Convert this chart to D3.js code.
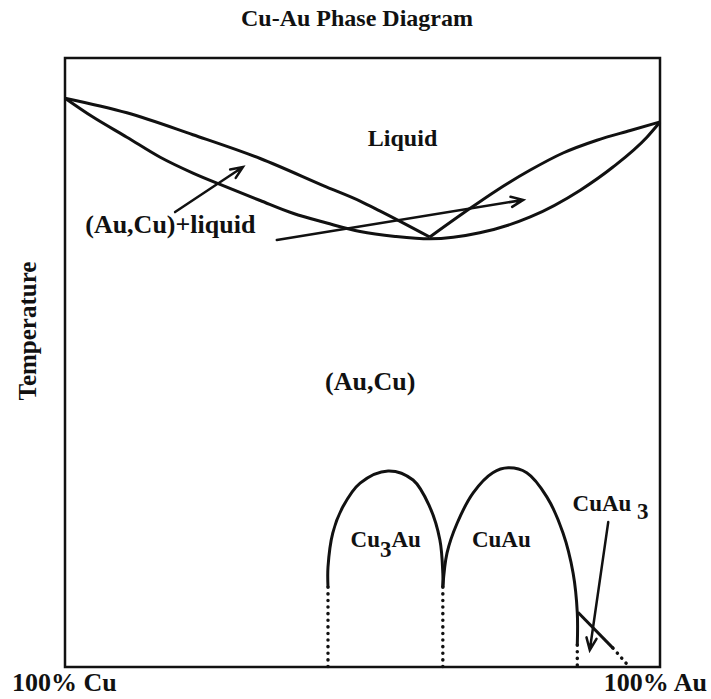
<!DOCTYPE html>
<html>
<head>
<meta charset="UTF-8">
<title>Cu-Au Phase Diagram</title>
<script src="https://d3js.org/d3.v7.min.js"></script>
<style>
  body { margin: 0; background: #fff; }
  text { font-family: "Liberation Serif", "Times New Roman", serif; font-weight: bold; fill: #111; }
  .curve { fill: none; stroke: #111; stroke-width: 3; stroke-linejoin: round; }
  .dots { fill: none; stroke: #111; stroke-width: 3.5; stroke-dasharray: 0.1 6.5; stroke-linecap: round; }
  .arrow { fill: none; stroke: #111; stroke-width: 2.5; stroke-linecap: round; }
</style>
</head>
<body>
<script>
// DATA  (composition in at.% Au, temperature in relative units 0-100)
var liquidusCu = [[0,93.4],[10.4,91.0],[21.5,87.4],[32.8,83.5],[44.0,78.8],[49.6,76.5],[52.9,74.9],[61.3,70.6]];
var liquidusAu = [[61.3,70.6],[66.9,74.5],[72.6,78.3],[78.2,81.6],[83.7,84.4],[89.4,86.5],[95.0,88.1],[100,89.5]];
var solidus = [[0,93.4],[4.7,90.3],[10.4,87.0],[16.0,83.7],[21.5,81.1],[27.2,78.8],[32.8,76.6],[38.3,74.5],
               [44.0,72.9],[49.6,71.5],[55.5,70.7],[61.3,70.3],[69.7,71.3],[78.2,73.9],[86.6,78.3],
               [92.1,82.1],[97.8,87.0],[100,89.5]];
var domeCu3Au = [[44.2,13.1],[44.2,16.4],[45.0,22.0],[46.7,26.3],[49.6,30.2],[54.3,32.2],[58.5,30.7],
                 [61.3,26.3],[63.0,20.9],[63.5,15.4],[63.5,13.1]];
var domeCuAu = [[63.5,13.1],[64.2,18.7],[65.9,23.6],[68.6,28.6],[71.9,31.9],[74.5,32.7],[77.6,31.9],
                [81.0,27.9],[83.7,22.0],[85.4,15.4],[86.1,8.9],[86.1,3.6]];
var boundCuAu3 = [[86.2,9.0],[92.1,3.1]];
var dotted = [[[44.2,13.1],[44.2,0]], [[63.5,13.1],[63.5,0]], [[86.1,3.6],[86.1,0]], [[92.1,3.1],[94.6,0.3]]];
var arrows = [[[18.5,74.7],[29.9,82.1]], [[35.6,70.1],[77.0,76.7]], [[91.3,23.8],[88.2,2.8]]];

var title = "Cu-Au Phase Diagram";
var yLabel = "Temperature";
var xEnds = ["100% Cu", "100% Au"];

// SIZES
var W = 711, H = 699;
var margin = {top: 58, right: 51, bottom: 32, left: 65},
    width = W - margin.left - margin.right,
    height = H - margin.top - margin.bottom;

var x = d3.scaleLinear().domain([0, 100]).range([0, width]);
var y = d3.scaleLinear().domain([0, 100]).range([height, 0]);

var line = d3.line().x(function (d) { return x(d[0]); }).y(function (d) { return y(d[1]); });

var svg = d3.select("body").append("svg")
    .attr("width", W).attr("height", H);
svg.append("rect").attr("width", W).attr("height", H).attr("fill", "#fff");

var g = svg.append("g").attr("transform", "translate(" + margin.left + "," + margin.top + ")");

// frame
g.append("rect")
    .attr("width", width).attr("height", height)
    .attr("fill", "none").attr("stroke", "#111").attr("stroke-width", 2.5);

// liquidus + solidus
g.append("path").attr("class", "curve").attr("d", line.curve(d3.curveMonotoneX)(liquidusCu));
g.append("path").attr("class", "curve").attr("d", line.curve(d3.curveMonotoneX)(liquidusAu));
g.append("path").attr("class", "curve").attr("d", line.curve(d3.curveMonotoneX)(solidus));

// ordered phase domes
g.append("path").attr("class", "curve").attr("d", line.curve(d3.curveCatmullRom)(domeCu3Au));
g.append("path").attr("class", "curve").attr("d", line.curve(d3.curveCatmullRom)(domeCuAu));
g.append("path").attr("class", "curve").attr("d", line.curve(d3.curveLinear)(boundCuAu3));

dotted.forEach(function (seg) {
    g.append("path").attr("class", "dots").attr("d", line.curve(d3.curveLinear)(seg));
});

// arrows with open heads
arrows.forEach(function (a) {
    var x0 = x(a[0][0]), y0 = y(a[0][1]), x1 = x(a[1][0]), y1 = y(a[1][1]);
    var ang = Math.atan2(y1 - y0, x1 - x0), len = 13, spread = 0.4;
    g.append("path").attr("class", "arrow")
        .attr("d", "M" + x0 + "," + y0 + "L" + x1 + "," + y1 +
            "M" + (x1 - len * Math.cos(ang - spread)) + "," + (y1 - len * Math.sin(ang - spread)) +
            "L" + x1 + "," + y1 +
            "L" + (x1 - len * Math.cos(ang + spread)) + "," + (y1 - len * Math.sin(ang + spread)));
});

// TEXT
function label(parent, px, py, size, anchor) {
    return parent.append("text")
        .attr("x", px).attr("y", py)
        .attr("text-anchor", anchor || "start")
        .style("font-size", size + "px");
}

label(svg, 357, 26, 24, "middle").text(title);
label(svg, 12, 691, 26).text(xEnds[0]);
label(svg, 707, 691, 26, "end").text(xEnds[1]);

svg.append("text")
    .attr("transform", "translate(36,331) rotate(-90)")
    .attr("text-anchor", "middle")
    .style("font-size", "25px")
    .text(yLabel);

label(g, x(50.9), y(85.6), 24).text("Liquid");
label(g, x(3.4), y(71.3), 26).text("(Au,Cu)+liquid");
label(g, x(43.7), y(45.5), 26).text("(Au,Cu)");

var t1 = label(g, x(48.0), y(19.7), 23);
t1.append("tspan").text("Cu");
t1.append("tspan").attr("dy", 10).text("3");
t1.append("tspan").attr("dy", -10).text("Au");

label(g, x(68.4), y(19.7), 23).text("CuAu");

var t2 = label(g, x(85.3), y(25.6), 23);
t2.append("tspan").text("CuAu");
t2.append("tspan").attr("dy", 8).text(" 3");
</script>
</body>
</html>
